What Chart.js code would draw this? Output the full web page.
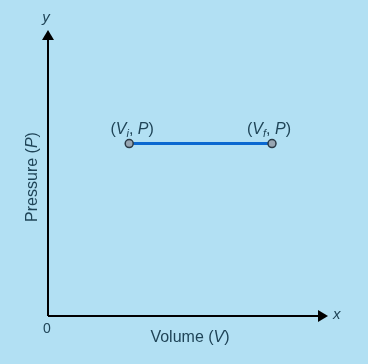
<!DOCTYPE html>
<html><head><meta charset="utf-8">
<script src="https://cdn.jsdelivr.net/npm/chart.js@4"></script>
<style>html,body{margin:0;padding:0;background:#b2e0f3;}#w{width:368px;height:364px;}</style>
</head><body><div id="w"><canvas id="c"></canvas></div>
<script>
const pointLabels = [["(", "V", "i", ", ", "P", ")"], ["(", "V", "f", ", ", "P", ")"]];
const volumes = [2.9, 8.0];
const pressures = [6, 6];
const xTitle = ["Volume (", "V", ")"];
const yTitle = ["Pressure (", "P", ")"];
const axisNames = ["x", "y"];
const originLabel = "0";

const txt = '#1f4457';
const font = 'Arial, "Liberation Sans", sans-serif';
const labelShift = [3, -3];

function fnt(style, size) {
  return (style === 'n' ? '' : 'italic ') + (style === 'sub' ? Math.round(size * 0.7) : size) + 'px ' + font;
}
function drawMixed(ctx, parts, styles, x, y, size) {
  const widths = parts.map((p, k) => { ctx.font = fnt(styles[k], size); return ctx.measureText(p).width; });
  const total = widths.reduce((a, b) => a + b, 0);
  let cx = x - total / 2;
  parts.forEach((p, k) => {
    ctx.font = fnt(styles[k], size);
    ctx.fillText(p, cx, styles[k] === 'sub' ? y + 4 : y);
    cx += widths[k];
  });
}

const axesPlugin = {
  id: 'axes',
  beforeDatasetsDraw(chart) {
    const ctx = chart.ctx, xs = chart.scales.x, ys = chart.scales.y;
    const x0 = xs.getPixelForValue(0), y0 = ys.getPixelForValue(0);
    const xEnd = xs.getPixelForValue(xs.max), yEnd = ys.getPixelForValue(ys.max);
    ctx.save();
    ctx.strokeStyle = '#000'; ctx.fillStyle = '#000'; ctx.lineWidth = 2;
    ctx.beginPath(); ctx.moveTo(x0, y0); ctx.lineTo(xEnd - 8, y0); ctx.stroke();
    ctx.beginPath(); ctx.moveTo(x0, y0); ctx.lineTo(x0, yEnd + 8); ctx.stroke();
    ctx.beginPath(); ctx.moveTo(xEnd, y0); ctx.lineTo(xEnd - 10, y0 - 6); ctx.lineTo(xEnd - 10, y0 + 6); ctx.closePath(); ctx.fill();
    ctx.beginPath(); ctx.moveTo(x0, yEnd); ctx.lineTo(x0 - 6, yEnd + 10); ctx.lineTo(x0 + 6, yEnd + 10); ctx.closePath(); ctx.fill();
    ctx.restore();
  },
  afterDraw(chart) {
    const ctx = chart.ctx, xs = chart.scales.x, ys = chart.scales.y;
    const x0 = xs.getPixelForValue(0), y0 = ys.getPixelForValue(0);
    const xEnd = xs.getPixelForValue(xs.max), yEnd = ys.getPixelForValue(ys.max);
    ctx.save();
    ctx.fillStyle = txt; ctx.textBaseline = 'middle'; ctx.textAlign = 'left';
    ctx.font = 'italic 15px ' + font;
    ctx.fillText(axisNames[0], xEnd + 5, y0 - 1);
    ctx.textAlign = 'center';
    ctx.fillText(axisNames[1], x0 - 2, yEnd - 12);
    ctx.font = '14px ' + font;
    ctx.fillText(originLabel, x0 - 1, y0 + 13);
    ctx.textAlign = 'left';
    drawMixed(ctx, xTitle, ['n', 'i', 'n'], 190, y0 + 22, 16);
    ctx.save();
    ctx.translate(x0 - 15, 177);
    ctx.rotate(-Math.PI / 2);
    drawMixed(ctx, yTitle, ['n', 'i', 'n'], 0, 0, 16);
    ctx.restore();
    const meta = chart.getDatasetMeta(0);
    meta.data.forEach((pt, k) => {
      drawMixed(ctx, pointLabels[k], ['n', 'i', 'sub', 'n', 'i', 'n'], pt.x + labelShift[k], pt.y - 14, 16);
    });
    ctx.restore();
  }
};

new Chart(document.getElementById('c'), {
  type: 'scatter',
  data: { datasets: [{
    data: volumes.map((v, k) => ({x: v, y: pressures[k]})),
    showLine: true,
    borderColor: '#0a68d0',
    borderWidth: 3,
    pointRadius: 4,
    pointBorderWidth: 1.5,
    pointBackgroundColor: '#98a6b2',
    pointBorderColor: '#2a3a46'
  }]},
  options: {
    responsive: true, maintainAspectRatio: false, animation: false,
    layout: { padding: { left: 48, right: 40, top: 30, bottom: 48 } },
    plugins: { legend: { display: false }, tooltip: { enabled: false } },
    scales: {
      x: { type: 'linear', min: 0, max: 10, display: false },
      y: { type: 'linear', min: 0, max: 9.95, display: false }
    }
  },
  plugins: [axesPlugin]
});
</script></body></html>
